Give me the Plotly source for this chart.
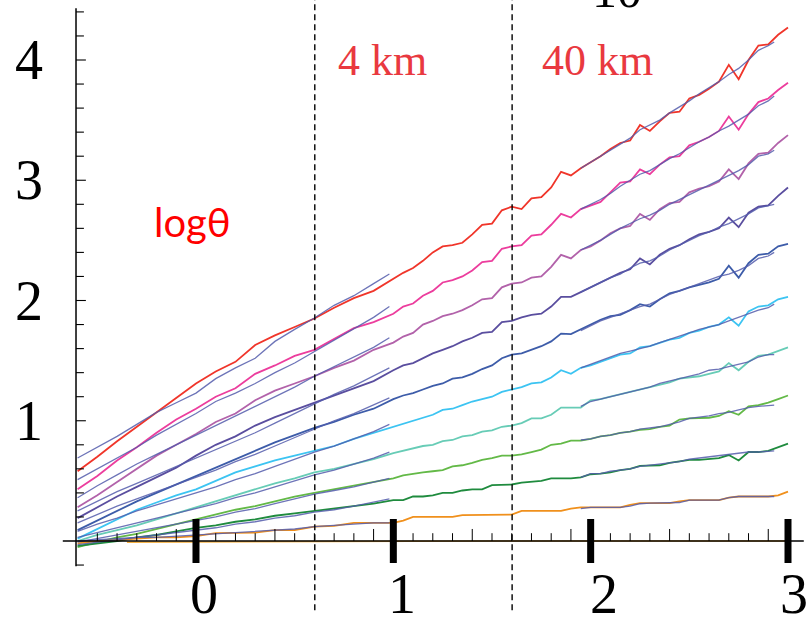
import plotly.graph_objects as go

# log10 distance grid shared by the model curves
X_GRID = [-0.6, -0.5, -0.4, -0.3, -0.2, -0.1, 0.0, 0.1, 0.2, 0.3, 0.4, 0.5, 0.6, 0.7, 0.8, 0.9, 1.0,
          1.05, 1.10, 1.15, 1.20, 1.25, 1.30, 1.35, 1.40, 1.45, 1.50,
          1.55, 1.60, 1.65, 1.70, 1.75, 1.80, 1.85, 1.90, 1.95, 2.00,
          2.05, 2.10, 2.15, 2.20, 2.25, 2.30, 2.35, 2.40, 2.45, 2.50,
          2.55, 2.60, 2.65, 2.70, 2.75, 2.80, 2.85, 2.90, 2.95, 3.00]

RED = [0.58, 0.70, 0.83, 0.95, 1.07, 1.19, 1.31, 1.41, 1.49, 1.63, 1.71, 1.78, 1.85, 1.94, 2.02, 2.08, 2.18,
       2.23, 2.27, 2.33, 2.40, 2.45, 2.46, 2.48, 2.55, 2.63, 2.64,
       2.75, 2.78, 2.76, 2.85, 2.86, 2.94, 3.07, 3.04, 3.10, 3.15,
       3.20, 3.26, 3.31, 3.33, 3.46, 3.41, 3.49, 3.56, 3.57, 3.68,
       3.71, 3.76, 3.82, 3.96, 3.84, 4.00, 4.12, 4.13, 4.21, 4.27]
MAGENTA = [0.43, 0.54, 0.67, 0.78, 0.90, 1.01, 1.10, 1.20, 1.27, 1.39, 1.46, 1.54, 1.59, 1.68, 1.77, 1.82, 1.89,
           1.95, 1.975, 2.04, 2.08, 2.15, 2.17, 2.20, 2.25, 2.32, 2.33,
           2.43, 2.45, 2.46, 2.54, 2.55, 2.63, 2.72, 2.69, 2.76, 2.79,
           2.82, 2.90, 2.98, 2.99, 3.09, 3.05, 3.13, 3.19, 3.20, 3.29,
           3.32, 3.36, 3.41, 3.53, 3.42, 3.55, 3.65, 3.68, 3.75, 3.81]
PURPLE = [0.28, 0.38, 0.49, 0.60, 0.71, 0.80, 0.89, 0.99, 1.06, 1.17, 1.25, 1.31, 1.37, 1.44, 1.50, 1.59, 1.65,
          1.70, 1.73, 1.80, 1.83, 1.87, 1.89, 1.92, 1.96, 2.01, 2.02,
          2.11, 2.14, 2.15, 2.19, 2.20, 2.28, 2.38, 2.35, 2.42, 2.45,
          2.50, 2.56, 2.60, 2.62, 2.72, 2.67, 2.76, 2.81, 2.82, 2.90,
          2.93, 2.95, 2.99, 3.09, 3.01, 3.14, 3.22, 3.23, 3.31, 3.375]
INDIGO = [0.19, 0.28, 0.37, 0.45, 0.53, 0.61, 0.71, 0.80, 0.87, 0.96, 1.03, 1.09, 1.15, 1.21, 1.27, 1.33, 1.42,
          1.46, 1.48, 1.52, 1.56, 1.59, 1.62, 1.66, 1.69, 1.73, 1.74,
          1.82, 1.83, 1.86, 1.88, 1.89, 1.95, 2.03, 2.03, 2.07, 2.11,
          2.15, 2.19, 2.23, 2.26, 2.35, 2.30, 2.38, 2.43, 2.46, 2.51,
          2.55, 2.57, 2.60, 2.69, 2.61, 2.73, 2.78, 2.79, 2.87, 2.94]
BLUE = [0.09, 0.17, 0.25, 0.33, 0.40, 0.47, 0.54, 0.61, 0.68, 0.75, 0.82, 0.88, 0.94, 0.99, 1.05, 1.10, 1.18,
        1.21, 1.23, 1.26, 1.29, 1.31, 1.35, 1.36, 1.39, 1.43, 1.46,
        1.52, 1.55, 1.56, 1.59, 1.62, 1.66, 1.725, 1.72, 1.76, 1.80,
        1.84, 1.87, 1.88, 1.92, 1.97, 1.95, 2.01, 2.06, 2.08, 2.11,
        2.13, 2.15, 2.18, 2.29, 2.19, 2.31, 2.38, 2.39, 2.45, 2.47]
CYAN = [0.02, 0.10, 0.18, 0.26, 0.32, 0.38, 0.43, 0.50, 0.57, 0.62, 0.67, 0.71, 0.75, 0.79, 0.85, 0.90, 0.95,
        0.98, 1.00, 1.03, 1.05, 1.09, 1.10, 1.13, 1.16, 1.18, 1.20,
        1.24, 1.26, 1.28, 1.31, 1.32, 1.36, 1.42, 1.39, 1.44, 1.46,
        1.49, 1.52, 1.55, 1.56, 1.61, 1.62, 1.65, 1.675, 1.69, 1.73,
        1.75, 1.78, 1.80, 1.86, 1.79, 1.91, 1.95, 1.96, 2.01, 2.03]
TEAL = [0.00, 0.05, 0.09, 0.13, 0.18, 0.23, 0.28, 0.33, 0.38, 0.43, 0.48, 0.52, 0.57, 0.60, 0.64, 0.68, 0.73,
        0.75, 0.77, 0.79, 0.80, 0.83, 0.84, 0.87, 0.88, 0.91, 0.92,
        0.95, 0.96, 0.98, 1.02, 1.02, 1.05, 1.11, 1.11, 1.11, 1.17,
        1.18, 1.20, 1.22, 1.24, 1.26, 1.28, 1.30, 1.32, 1.35, 1.36,
        1.37, 1.39, 1.41, 1.48, 1.42, 1.49, 1.54, 1.55, 1.58, 1.61]
GREEN = [-0.05, -0.01, 0.03, 0.06, 0.10, 0.14, 0.18, 0.22, 0.26, 0.29, 0.33, 0.37, 0.40, 0.43, 0.46, 0.49, 0.52,
         0.545, 0.56, 0.57, 0.58, 0.59, 0.62, 0.63, 0.65, 0.675, 0.69,
         0.71, 0.71, 0.72, 0.74, 0.76, 0.80, 0.81, 0.835, 0.835, 0.85,
         0.87, 0.88, 0.90, 0.91, 0.925, 0.93, 0.95, 0.96, 1.01, 1.02,
         1.02, 1.025, 1.04, 1.08, 1.05, 1.12, 1.13, 1.15, 1.18, 1.21]
DARK_GREEN = [-0.04, -0.02, 0.00, 0.03, 0.05, 0.08, 0.11, 0.13, 0.16, 0.18, 0.21, 0.23, 0.25, 0.27, 0.29, 0.31, 0.34,
              0.34, 0.37, 0.37, 0.38, 0.40, 0.40, 0.42, 0.43, 0.43, 0.465,
              0.465, 0.47, 0.485, 0.49, 0.50, 0.52, 0.52, 0.52, 0.53, 0.555,
              0.56, 0.57, 0.59, 0.60, 0.625, 0.625, 0.63, 0.65, 0.66, 0.675,
              0.675, 0.68, 0.69, 0.715, 0.67, 0.74, 0.74, 0.75, 0.78, 0.81]
ORANGE = [-0.02, 0.00, 0.01, 0.02, 0.03, 0.03, 0.04, 0.065, 0.065, 0.07, 0.09, 0.09, 0.12, 0.125, 0.15, 0.15, 0.15,
          0.17, 0.20, 0.20, 0.20, 0.20, 0.20, 0.215, 0.215, 0.215, 0.215,
          0.215, 0.22, 0.25, 0.25, 0.25, 0.25, 0.25, 0.27, 0.28, 0.28,
          0.28, 0.28, 0.28, 0.30, 0.315, 0.315, 0.315, 0.315, 0.33, 0.34,
          0.34, 0.34, 0.34, 0.36, 0.37, 0.37, 0.37, 0.37, 0.38, 0.41]
BASE_X = [-0.35, 0.5, 1.5, 2.5, 3.0]
BASE_Y = [-0.01, -0.005, 0.0, 0.0, 0.0]

# fitted overlays on the two fitting windows
X_FIT1 = [-0.6, -0.5, -0.4, -0.3, -0.2, -0.1, 0.0, 0.1, 0.2, 0.3, 0.4, 0.5, 0.6, 0.7, 0.8, 0.9, 0.98]
FIT1_RED = [0.69, 0.78, 0.87, 0.97, 1.07, 1.15, 1.23, 1.35, 1.44, 1.52, 1.66, 1.76, 1.855, 1.96, 2.04, 2.14, 2.22]
FIT1_MAGENTA = [0.51, 0.60, 0.69, 0.78, 0.88, 0.97, 1.06, 1.16, 1.23, 1.31, 1.40, 1.48, 1.575, 1.67, 1.77, 1.86, 1.95]
FIT1_PURPLE = [0.36, 0.46, 0.55, 0.64, 0.72, 0.80, 0.88, 0.96, 1.04, 1.12, 1.20, 1.28, 1.37, 1.45, 1.53, 1.61, 1.69]
FIT1_INDIGO = [0.25, 0.33, 0.41, 0.48, 0.55, 0.62, 0.69, 0.76, 0.83, 0.90, 0.98, 1.06, 1.14, 1.22, 1.29, 1.37, 1.44]
FIT1_BLUE = [0.15, 0.22, 0.29, 0.35, 0.41, 0.47, 0.53, 0.59, 0.66, 0.72, 0.79, 0.86, 0.93, 1.00, 1.06, 1.13, 1.19]
FIT1_CYAN = [0.08, 0.14, 0.19, 0.25, 0.30, 0.35, 0.40, 0.45, 0.51, 0.56, 0.62, 0.68, 0.74, 0.79, 0.85, 0.91, 0.97]
FIT1_TEAL = [0.03, 0.07, 0.11, 0.15, 0.19, 0.23, 0.27, 0.31, 0.36, 0.40, 0.45, 0.50, 0.55, 0.59, 0.64, 0.69, 0.74]
FIT1_GREEN = [-0.01, 0.02, 0.05, 0.08, 0.11, 0.14, 0.17, 0.20, 0.24, 0.27, 0.31, 0.35, 0.39, 0.42, 0.45, 0.49, 0.52]
FIT1_DARK_GREEN = [-0.03, -0.01, 0.01, 0.03, 0.05, 0.07, 0.09, 0.11, 0.14, 0.16, 0.19, 0.21, 0.24, 0.26, 0.29, 0.32, 0.35]
FIT1_ORANGE = [0.00, 0.01, 0.02, 0.03, 0.03, 0.04, 0.05, 0.06, 0.07, 0.08, 0.09, 0.10, 0.12, 0.13, 0.14, 0.15, 0.15]

X_FIT2 = [1.95, 2.00, 2.05, 2.10, 2.15, 2.20, 2.25, 2.30, 2.35, 2.40, 2.45,
          2.50, 2.55, 2.60, 2.65, 2.70, 2.75, 2.80, 2.85, 2.90, 2.93]
FIT2_RED = [3.10, 3.15, 3.20, 3.25, 3.30, 3.35, 3.42, 3.46, 3.50, 3.56, 3.61,
            3.66, 3.72, 3.77, 3.82, 3.88, 3.93, 4.00, 4.08, 4.12, 4.15]
FIT2_MAGENTA = [2.76, 2.80, 2.84, 2.89, 2.95, 3.00, 3.05, 3.08, 3.13, 3.18, 3.22,
                3.27, 3.32, 3.36, 3.41, 3.45, 3.50, 3.55, 3.62, 3.66, 3.70]
FIT2_PURPLE = [2.42, 2.46, 2.50, 2.55, 2.60, 2.64, 2.68, 2.71, 2.75, 2.80, 2.84,
               2.88, 2.92, 2.96, 3.00, 3.04, 3.08, 3.13, 3.20, 3.22, 3.25]
FIT2_INDIGO = [2.07, 2.11, 2.15, 2.19, 2.22, 2.27, 2.31, 2.33, 2.37, 2.42, 2.46,
               2.50, 2.54, 2.57, 2.61, 2.64, 2.68, 2.72, 2.77, 2.79, 2.80]
FIT2_BLUE = [1.75, 1.79, 1.83, 1.86, 1.89, 1.92, 1.95, 1.97, 2.01, 2.05, 2.08,
             2.11, 2.14, 2.17, 2.20, 2.22, 2.25, 2.29, 2.35, 2.37, 2.40]
FIT2_CYAN = [1.44, 1.47, 1.50, 1.53, 1.56, 1.58, 1.60, 1.62, 1.65, 1.675, 1.70,
             1.73, 1.76, 1.78, 1.80, 1.83, 1.86, 1.89, 1.92, 1.94, 1.97]
FIT2_TEAL = [1.12, 1.16, 1.18, 1.20, 1.22, 1.24, 1.26, 1.28, 1.31, 1.33, 1.35,
             1.37, 1.39, 1.42, 1.43, 1.45, 1.47, 1.49, 1.53, 1.55, 1.55]
FIT2_GREEN = [0.84, 0.85, 0.87, 0.88, 0.90, 0.91, 0.93, 0.94, 0.95, 0.97, 0.99,
              1.02, 1.03, 1.04, 1.06, 1.07, 1.09, 1.11, 1.12, 1.13, 1.13]
FIT2_DARK_GREEN = [0.53, 0.56, 0.56, 0.58, 0.59, 0.60, 0.62, 0.63, 0.64, 0.65, 0.66,
                   0.68, 0.69, 0.70, 0.71, 0.72, 0.73, 0.74, 0.74, 0.75, 0.75]
FIT2_ORANGE = [0.27, 0.28, 0.28, 0.28, 0.28, 0.29, 0.31, 0.315, 0.315, 0.315, 0.32,
               0.34, 0.34, 0.34, 0.34, 0.36, 0.37, 0.37, 0.37, 0.37, 0.37]

Y_TICKS_MAJOR = [1, 2, 3, 4]
X_TICKS_MAJOR = [0, 1, 2, 3]
DISTANCE_MARKS = [(0.602, "4 km"), (1.602, "40 km")]

series = [
    (RED, "#f0352a", FIT1_RED, FIT2_RED),
    (MAGENTA, "#ec3d9d", FIT1_MAGENTA, FIT2_MAGENTA),
    (PURPLE, "#b262aa", FIT1_PURPLE, FIT2_PURPLE),
    (INDIGO, "#5a4e9f", FIT1_INDIGO, FIT2_INDIGO),
    (BLUE, "#3d5ca9", FIT1_BLUE, FIT2_BLUE),
    (CYAN, "#3cc4f2", FIT1_CYAN, FIT2_CYAN),
    (TEAL, "#67ccb6", FIT1_TEAL, FIT2_TEAL),
    (GREEN, "#63b947", FIT1_GREEN, FIT2_GREEN),
    (DARK_GREEN, "#1f8b3e", FIT1_DARK_GREEN, FIT2_DARK_GREEN),
    (ORANGE, "#f0901c", FIT1_ORANGE, FIT2_ORANGE),
]

FIT_COLOR = "rgba(84,92,172,0.85)"
SERIF = "Liberation Serif, Times New Roman, serif"

fig = go.Figure()

fig.add_trace(go.Scatter(x=BASE_X, y=BASE_Y, mode="lines",
                         line=dict(color="#f5b041", width=1.6), hoverinfo="skip"))
for ys, color, _, _ in series:
    fig.add_trace(go.Scatter(x=X_GRID, y=ys, mode="lines",
                             line=dict(color=color, width=1.8), hoverinfo="skip"))
for _, _, f1, f2 in series:
    fig.add_trace(go.Scatter(x=X_FIT1, y=f1, mode="lines",
                             line=dict(color=FIT_COLOR, width=1.3), hoverinfo="skip"))
    fig.add_trace(go.Scatter(x=X_FIT2, y=f2, mode="lines",
                             line=dict(color=FIT_COLOR, width=1.3), hoverinfo="skip"))

shapes = []
# axes crossing at (-0.608, 0)
Y_AXIS_X = -0.608
shapes.append(dict(type="line", x0=-0.675, x1=3.08, y0=0, y1=0,
                   line=dict(color="black", width=1.5)))
shapes.append(dict(type="line", x0=Y_AXIS_X, x1=Y_AXIS_X, y0=-0.21, y1=4.43,
                   line=dict(color="black", width=1.5)))

# y-axis ticks every 0.2, pointing right
for k in range(-1, 23):
    v = k * 0.2
    if k == 0:
        continue
    length = 0.05 if k % 5 == 0 else 0.04
    shapes.append(dict(type="line", x0=Y_AXIS_X, x1=Y_AXIS_X + length, y0=v, y1=v,
                       line=dict(color="black", width=1.1)))

# x-axis minor ticks every 0.1, pointing up
for k in range(-5, 31):
    if k % 10 == 0:
        continue
    v = k * 0.1
    tall = (k % 5 == 4) or (k % 5 == -1)
    shapes.append(dict(type="line", x0=v, x1=v, y0=0, y1=0.1 if tall else 0.065,
                       line=dict(color="black", width=1.0)))

# x-axis major ticks: heavy bars through the axis
for v in X_TICKS_MAJOR:
    shapes.append(dict(type="line", x0=v, x1=v, y0=-0.183, y1=0.183,
                       line=dict(color="black", width=7)))

# distance markers
for xv, _ in DISTANCE_MARKS:
    shapes.append(dict(type="line", x0=xv, x1=xv, y0=-0.575, y1=4.6,
                       line=dict(color="black", width=1.4, dash="6px,4px")))

annotations = []
X_LABEL_SHIFT = [8, 9, 13, 6]
for v, dx in zip(X_TICKS_MAJOR, X_LABEL_SHIFT):
    annotations.append(dict(x=v, y=-0.44, xref="x", yref="y", text=str(v), showarrow=False,
                            xshift=dx, font=dict(family=SERIF, size=56, color="black")))
for v in Y_TICKS_MAJOR:
    annotations.append(dict(x=-0.846, y=v, xref="x", yref="y", text=str(v), showarrow=False,
                            font=dict(family=SERIF, size=56, color="black")))

for xv, label in DISTANCE_MARKS:
    annotations.append(dict(x=xv + 0.345 if label == "4 km" else xv + 0.435, y=4.0,
                            xref="x", yref="y", text=label, showarrow=False,
                            font=dict(family=SERIF, size=44, color="#e9393f")))

annotations.append(dict(x=-0.02, y=2.65, xref="x", yref="y", text="logθ", showarrow=False,
                        font=dict(family="Lato, Open Sans, sans-serif", size=40, color="#ff0000")))
# top-axis label sitting just above the frame, only its base shows
annotations.append(dict(x=644 / 810, y=1 + 40 / 617, xref="paper", yref="paper", text="10",
                        showarrow=False, font=dict(family=SERIF, size=50, color="black")))

fig.update_layout(
    width=810, height=617,
    margin=dict(l=0, r=0, t=0, b=0),
    paper_bgcolor="white", plot_bgcolor="white",
    showlegend=False,
    xaxis=dict(range=[-0.9932, 3.1115], visible=False, fixedrange=True),
    yaxis=dict(range=[-0.632, 4.499], visible=False, fixedrange=True),
    shapes=shapes,
    annotations=annotations,
)

fig.write_html("out.html")
